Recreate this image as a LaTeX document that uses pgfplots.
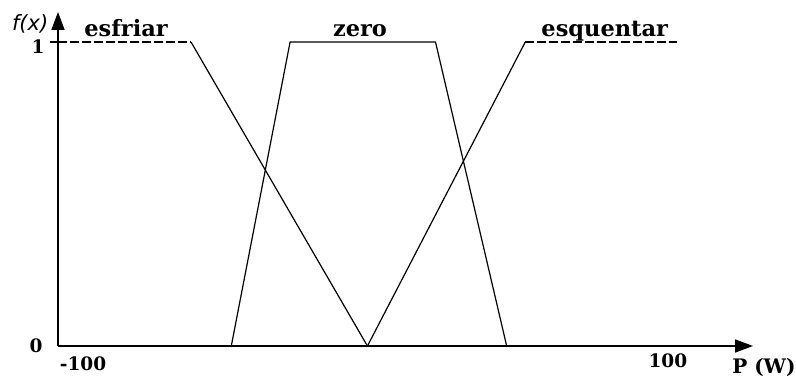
\documentclass[border=0pt]{standalone}
\usepackage{fontspec}
\usepackage{pgfplots}
\pgfplotsset{compat=1.18}
\usetikzlibrary{arrows.meta}
\newfontfamily\serifb{DejaVu Serif}
\newfontfamily\sansi{DejaVu Sans}
\newcommand{\lbl}{\serifb\bfseries\fontsize{22.5}{22.5}\selectfont}
\newcommand{\num}{\serifb\bfseries\fontsize{18.5}{18.5}\selectfont}
\begin{document}
\begin{tikzpicture}
\begin{axis}[
  at={(0,0)}, anchor=south west,
  scale only axis, width=695pt, height=334pt,
  xmin=-100, xmax=124.6, ymin=0, ymax=1.099,
  axis lines=left,
  x axis line style={line width=1.6pt, -{Triangle[length=18pt,width=13pt]}},
  y axis line style={line width=1.6pt, -{Triangle[length=18pt,width=13pt]}},
  xtick=\empty, ytick={1}, yticklabels={\num 1},
  yticklabel style={anchor=center, xshift=-12pt, yshift=-5pt},
  major tick length=16pt,
  tick align=center,
  every tick/.style={black, line width=1.6pt},
  clip=false,
]
\coordinate (O) at (axis cs:-100,0);
\addplot[black, line width=1.2pt, dash pattern=on 9pt off 3pt] coordinates {(-100,1) (-57,1)};
\addplot[black, line width=1.2pt] coordinates {(-57,1) (0,0)};
\addplot[black, line width=1.2pt] coordinates {(-44,0) (-25,1) (22,1) (45,0)};
\addplot[black, line width=1.2pt] coordinates {(0,0) (51,1)};
\addplot[black, line width=1.2pt, dash pattern=on 9pt off 3pt] coordinates {(51,1) (100,1)};
\node[anchor=base] at (axis cs:-78,1.018) {\lbl esfriar};
\node[anchor=base] at (axis cs:-2.4,1.018) {\lbl zero};
\node[anchor=base] at (axis cs:76.7,1.018) {\lbl esquentar};
\node at (axis cs:-109,1.06) {\sansi\itshape\fontsize{21}{21}\selectfont f(x)};
\node at (axis cs:-107.1,0) {\num 0};
\node at (axis cs:-91.9,-0.059) {\num -100};
\node at (axis cs:97.1,-0.049) {\num 100};
\node[anchor=base] at (axis cs:120.4,-0.089) {\serifb\bfseries\fontsize{20}{20}\selectfont P};
\node[anchor=base] at (axis cs:131.7,-0.089) {\serifb\bfseries\fontsize{20}{20}\selectfont (W)};
\end{axis}
\pgfresetboundingbox
\path[use as bounding box] ([shift={(-58pt,-37pt)}]O) rectangle ([shift={(738pt,346pt)}]O);
\end{tikzpicture}
\end{document}
